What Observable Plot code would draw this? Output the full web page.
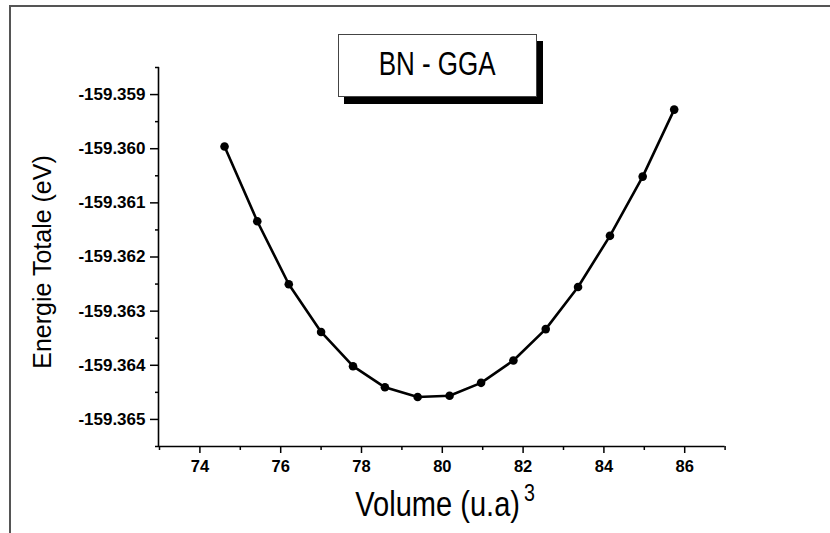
<!DOCTYPE html>
<html>
<head>
<meta charset="utf-8">
<script src="https://cdn.jsdelivr.net/npm/d3@7"></script>
<script src="https://cdn.jsdelivr.net/npm/@observablehq/plot@0.6"></script>
<style>
  html, body { margin: 0; padding: 0; background: #fff; }
  #wrap { position: relative; width: 830px; height: 533px; overflow: hidden; }
  #frame { position: absolute; left: 9px; top: 5px; right: -4px; bottom: -4px;
           border-top: 2px solid #555; border-left: 2px solid #555; }
  #chart { position: absolute; left: 0; top: 0; }
  #legend { position: absolute; left: 338px; top: 34px; width: 197px; height: 61px;
            border: 1px solid #444; background: #fff; box-shadow: 6px 7px 0 #000;
            display: flex; align-items: center; justify-content: center;
            font-family: "Liberation Sans", Arial, sans-serif; font-size: 32.5px; color: #000; }
  #legend span { display: inline-block; transform: scaleX(0.8); white-space: nowrap; margin-top: -3px; }
  svg g[aria-label$="tick label"] text { font-weight: bold; }
</style>
</head>
<body>
<div id="wrap">
  <div id="frame"></div>
  <div id="chart"></div>
  <div id="legend"><span>BN - GGA</span></div>
</div>
<script>
// Data
const volume = [74.61, 75.42, 76.20, 77.00, 77.79, 78.58, 79.39, 80.18, 80.96, 81.76, 82.56, 83.36, 84.15, 84.96, 85.74];
const energy = [-159.359959, -159.361339, -159.362504, -159.363384, -159.364017, -159.364407, -159.364586,
                -159.364564, -159.364324, -159.363912, -159.363332, -159.362554, -159.361609, -159.360515, -159.359278];

const xTicks = [74, 76, 78, 80, 82, 84, 86];
const xMinorTicks = [73, 75, 77, 79, 81, 83, 85, 87];
const yTicks = [-159.359, -159.360, -159.361, -159.362, -159.363, -159.364, -159.365];
const yMinorTicks = [-159.3585, -159.3595, -159.3605, -159.3615, -159.3625, -159.3635, -159.3645, -159.3655];
const xDomain = [73, 87];
const yDomain = [-159.3655, -159.3585];

const xTitle = "Volume (u.a)";
const xTitleSup = "3";
const yTitle = "Energie Totale (eV)";

const data = volume.map((v, i) => ({volume: v, energy: energy[i]}));

const chart = Plot.plot({
  width: 830,
  height: 533,
  marginLeft: 159,
  marginRight: 105.4,
  marginTop: 67,
  marginBottom: 87,
  style: {fontFamily: '"Liberation Sans", Arial, sans-serif', color: "#000", background: "transparent"},
  x: {domain: xDomain},
  y: {domain: yDomain},
  marks: [
    Plot.axisX(xTicks, {tickSize: 7, tickPadding: 7, fontSize: 16.5, fontWeight: "bold", strokeWidth: 1.5, label: null}),
    Plot.axisX(xMinorTicks, {tickSize: 4, text: null, strokeWidth: 1.5, label: null}),
    Plot.axisY(yTicks, {tickSize: 9, tickPadding: 5, fontSize: 17, fontWeight: "bold", strokeWidth: 1.5,
                        tickFormat: d => d.toFixed(3), label: null}),
    Plot.axisY(yMinorTicks, {tickSize: 4, text: null, strokeWidth: 1.5, label: null}),
    Plot.ruleX([xDomain[0]], {strokeWidth: 1.6, dx: -1}),
    Plot.ruleY([yDomain[0]], {strokeWidth: 1.6}),
    Plot.line(data, {x: "volume", y: "energy", stroke: "#000", strokeWidth: 2.6}),
    Plot.dot(data, {x: "volume", y: "energy", r: 4.3, fill: "#000", stroke: null}),
    Plot.text([yTitle], {frameAnchor: "left", rotate: -90, textAnchor: "middle", lineAnchor: "bottom",
                         dx: -109, dy: 5, fontSize: 25, fill: "#000"}),
    Plot.text([xTitle], {frameAnchor: "bottom", textAnchor: "start", lineAnchor: "bottom",
                         dx: -87, dy: 69, fontSize: 35, fill: "#000", className: "xtitle"}),
    Plot.text([xTitleSup], {frameAnchor: "bottom", textAnchor: "start", lineAnchor: "bottom",
                            dx: 81.8, dy: 54, fontSize: 24, fill: "#000", className: "xtitlesup"})
  ]
});
// condense the x-axis title glyphs horizontally (narrow face in the reference)
chart.querySelectorAll(".xtitle text").forEach(t => {
  t.setAttribute("transform", (t.getAttribute("transform") || "") + " scale(0.83 1)");
});
chart.querySelectorAll(".xtitlesup text").forEach(t => {
  t.setAttribute("transform", (t.getAttribute("transform") || "") + " scale(0.82 1)");
});
document.getElementById("chart").appendChild(chart);
</script>
</body>
</html>
